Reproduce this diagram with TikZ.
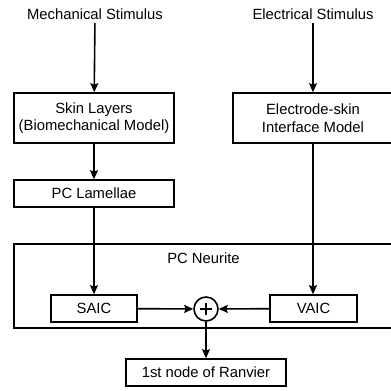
\documentclass[tikz,border=0pt]{standalone}
\usepackage{fontspec}
\setmainfont{Liberation Sans}
\usetikzlibrary{arrows.meta, positioning, calc}
\tikzset{
    blk/.style={draw=black, line width=1.6pt, inner sep=0pt, align=center, font=\fontsize{14.8}{17.5}\selectfont},
    wide/.style={blk, minimum width=160pt, minimum height=27pt},
    tall/.style={blk, minimum width=160pt, minimum height=50pt},
    small/.style={blk, minimum width=86pt, minimum height=27pt},
    stim/.style={font=\fontsize{14.8}{17.5}\selectfont},
    sumnode/.style={circle, draw=black, line width=1.6pt, minimum size=24pt, inner sep=0pt,
        path picture={\draw[line width=1.7pt] ($(path picture bounding box.center)+(-6,0)$) -- ($(path picture bounding box.center)+(6,0)$);
                      \draw[line width=1.7pt] ($(path picture bounding box.center)+(0,-6)$) -- ($(path picture bounding box.center)+(0,6)$);}},
    flow/.style={-{Stealth[length=9pt, width=8pt, inset=1.5pt]}, line width=1.6pt, black}
}
\begin{document}
\begin{tikzpicture}[x=1pt, y=-1pt]
    \useasboundingbox (0,0) rectangle (391,391);
    % stimuli
    \node[stim] (mech) at (95,14) {Mechanical Stimulus};
    \node[stim] (elec) at (313,14) {Electrical Stimulus};
    % models
    \node[tall] (skin) at (94,118) {Skin Layers\\(Biomechanical Model)};
    \node[tall] (iface) at (313,118) {Electrode-skin\\Interface Model};
    \node[wide] (lam) at (94,193.5) {PC Lamellae};
    % neurite
    \node[blk, minimum width=379pt, minimum height=84pt,
          label={[anchor=center, yshift=-15pt, font=\fontsize{14.8}{17.5}\selectfont]north:PC Neurite}]
          (neurite) at (203.5,286) {};
    \node[small] (saic) at (94,308.5) {SAIC};
    \node[small, minimum width=87pt] (vaic) at (313.5,308.5) {VAIC};
    \node[sumnode] (sum) at (206,309) {};
    \node[wide] (ranv) at (206,372.5) {1st node of Ranvier};
    % connectors
    \draw[flow] (mech) -- (skin);
    \draw[flow] (elec) -- (iface);
    \draw[flow] (skin) -- (lam);
    \draw[flow] (lam.south) -- (saic.north);
    \draw[flow] (iface.south) -- (iface.south |- vaic.north);
    \draw[flow] (saic) -- (sum);
    \draw[flow] (vaic) -- (sum);
    \draw[flow] (sum) -- (ranv);
\end{tikzpicture}
\end{document}
